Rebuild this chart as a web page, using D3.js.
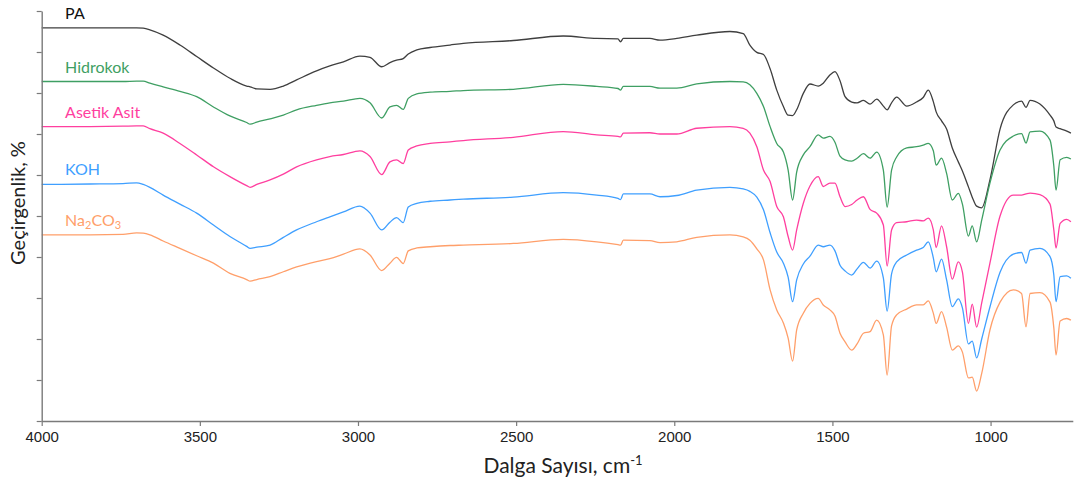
<!DOCTYPE html>
<html>
<head>
<meta charset="utf-8">
<script src="https://cdn.jsdelivr.net/npm/d3@7"></script>
<style>
  html, body { margin: 0; padding: 0; background: #fff; }
  svg { display: block; }
  .tick text { font-family: "Liberation Sans Narrow", "Arial Narrow", "Liberation Sans", sans-serif; font-size: 15px; fill: #222; }
</style>
</head>
<body>
<svg id="chart" width="1077" height="483"></svg>
<script>
// FTIR spectra: wavenumber (cm-1) and relative transmittance for each sample
const wavenumbers = [4000,3847,3743,3700,3679,3658,3616,3563,3510,3457,3405,3352,3341,3320,3278,3236,3194,3131,3089,3046,2994,2962,2925,2899,2878,2857,2841,2814,2772,2709,2667,2509,2351,2245,2178,2170,2161,2077,2045,1992,1929,1824,1782,1761,1739,1718,1697,1676,1655,1640,1626,1613,1592,1571,1545,1529,1508,1492,1476,1460,1439,1422,1402,1381,1360,1339,1327,1313,1297,1265,1234,1213,1197,1181,1172,1155,1139,1121,1102,1089,1070,1058,1044,1028,1002,970,928,902,888,875,844,812,800,793,780,759,746];

const pa = [95.9,95.9,95.9,95.9,95.8,95.4,94.1,91.7,88.9,86.1,83.6,81.7,81.5,81.0,80.9,81.7,83.2,85.4,86.6,87.6,89.0,88.7,86.4,87.4,88.0,88.4,89.5,90.5,91.1,91.7,92.1,92.8,93.9,93.3,93.2,92.5,93.3,93.3,92.9,93.3,94.1,95.0,94.5,91.7,89.9,89.4,85.9,80.7,76.7,74.6,74.5,75.9,79.9,82.2,81.7,82.4,84.4,85.2,83.0,79.1,77.8,77.6,78.2,77.3,78.5,76.8,75.9,77.6,79.0,76.8,77.8,78.9,80.7,77.9,75.4,73.2,71.2,66.6,63.2,61.0,57.1,54.6,52.4,52.0,58.8,71.2,77.1,78.0,76.5,78.2,77.3,74.6,73.2,71.7,71.3,70.7,70.2];

const hidrokok = [82.8,82.8,82.8,82.9,82.9,82.4,81.5,80.4,79.1,76.6,74.4,72.8,72.4,72.9,73.7,74.6,75.9,77.0,77.6,78.0,78.7,77.6,73.9,76.6,77.0,76.0,78.7,79.8,80.2,80.4,80.6,80.9,82.1,81.6,81.1,80.7,81.6,81.6,81.2,81.2,82.2,82.8,82.7,82.0,79.9,76.7,71.8,67.7,65.6,61.2,53.9,60.7,64.9,66.9,69.8,69.0,69.4,68.0,64.6,63.7,63.4,64.1,65.2,64.1,65.6,61.2,52.2,61.2,64.4,66.6,66.9,67.3,67.7,65.9,62.4,64.1,60.4,53.9,55.5,52.9,45.1,47.6,43.7,49.0,58.0,66.1,69.5,70.1,67.8,70.5,70.7,68.5,62.2,56.3,63.7,64.3,63.9];

const asetikAsit = [71.8,71.8,71.9,72.0,72.0,71.3,70.2,67.7,64.9,62.0,59.6,57.4,57.0,57.7,58.8,60.2,62.0,63.7,64.5,65.0,65.9,64.5,60.1,63.2,63.7,62.8,66.1,67.1,67.7,68.1,68.4,69.2,70.6,69.8,69.4,69.3,70.2,70.3,70.0,70.0,71.4,71.8,71.4,70.2,66.9,61.2,58.4,52.3,49.8,45.0,41.7,46.6,53.1,57.3,59.6,57.2,58.0,58.0,54.7,52.3,52.8,53.9,54.7,51.6,50.7,47.8,37.8,46.6,48.4,48.6,49.0,48.8,49.5,46.6,42.3,47.6,42.5,34.6,38.8,36.3,23.8,28.5,22.9,28.8,38.5,50.0,55.1,55.1,55.4,55.6,55.2,52.9,46.6,42.2,48.2,49.2,48.6];

const koh = [57.7,57.8,57.9,58.1,57.7,57.0,55.1,52.9,50.7,47.8,45.0,42.6,42.1,42.4,42.9,44.8,46.6,48.6,49.8,51.0,52.4,50.7,46.6,48.5,49.6,48.4,52.2,53.1,53.6,53.9,54.1,54.6,55.7,55.1,54.3,54.0,55.4,55.4,54.7,55.0,56.3,57.0,56.6,56.0,54.6,51.5,45.9,41.2,38.5,35.1,29.1,34.4,38.3,40.2,42.9,42.5,42.9,41.5,38.0,36.6,35.6,37.1,38.7,37.3,39.0,34.9,26.8,35.9,38.8,40.5,41.7,42.3,43.7,39.8,36.4,39.5,34.4,27.9,29.8,27.6,18.8,19.5,15.4,20.0,27.8,36.3,40.7,41.1,38.5,41.7,42.1,40.1,35.6,29.1,35.2,35.4,34.8];

const na2co3 = [45.4,45.4,45.5,45.9,45.8,45.4,43.9,42.1,40.3,38.5,36.0,34.5,34.1,34.5,35.2,36.4,37.6,38.9,39.6,40.7,42.0,40.5,36.7,38.5,39.9,38.4,41.5,42.2,42.5,42.8,42.9,43.3,44.3,43.7,43.0,42.9,44.1,44.0,43.5,43.7,44.8,45.4,44.9,44.1,42.0,39.3,32.0,27.1,23.9,20.2,14.6,22.2,26.3,28.7,29.9,28.3,27.1,25.6,21.4,19.3,17.3,18.8,21.4,21.8,24.6,21.0,11.2,23.2,25.9,27.3,28.3,28.3,29.3,26.3,23.8,26.7,22.9,17.3,18.3,16.8,10.5,10.7,7.3,11.6,22.2,29.0,32.0,31.1,23.0,31.1,31.3,29.0,22.7,16.1,24.4,25.0,24.6];

const seriesNames = ["PA", "Hidrokok", "Asetik Asit", "KOH", "Na2CO3"];
const seriesValues = [pa, hidrokok, asetikAsit, koh, na2co3];
const seriesColors = ["#3f3f3f", "#3f9f63", "#ff3f9f", "#3f9fff", "#ff9f6a"];
const labelColors = ["#111111", "#3f9f63", "#ff3f9f", "#3f9fff", "#ff9f6a"];

const xTicks = [4000, 3500, 3000, 2500, 2000, 1500, 1000];
const yTicks = [0, 10, 20, 30, 40, 50, 60, 70, 80, 90, 100];

const svg = d3.select("#chart");

const x = d3.scaleLinear().domain([4000, 740]).range([41.7, 1072.8]);
const y = d3.scaleLinear().domain([0, 100]).range([421, 11]);

// spectra
const line = d3.line()
  .x((d, i) => x(wavenumbers[i]))
  .y(d => y(d))
  .curve(d3.curveMonotoneX);

seriesValues.forEach((vals, k) => {
  svg.append("path")
    .datum(vals)
    .attr("fill", "none")
    .attr("stroke", seriesColors[k])
    .attr("stroke-width", 1.3)
    .attr("stroke-linejoin", "round")
    .attr("d", line);
});

// series labels, placed just above each trace's starting level
const labelX = x(3926);
seriesNames.forEach((name, k) => {
  const t = svg.append("text")
    .attr("x", labelX)
    .attr("y", y(seriesValues[k][0]) - 9)
    .attr("fill", labelColors[k])
    .attr("font-family", "Lato, 'Open Sans', sans-serif")
    .attr("font-size", 16);
  if (name === "Na2CO3") {
    t.append("tspan").text("Na");
    t.append("tspan").text("2").attr("font-size", 11).attr("dy", 3);
    t.append("tspan").text("CO").attr("dy", -3);
    t.append("tspan").text("3").attr("font-size", 11).attr("dy", 3);
  } else {
    t.text(name);
  }
});

// axes
const axisColor = "#7a7a7a";
const gx = svg.append("g")
  .attr("transform", `translate(0,${y(0)})`)
  .call(d3.axisBottom(x).tickValues(xTicks).tickSize(5).tickSizeOuter(0).tickPadding(5).tickFormat(d3.format("d")));
const gy = svg.append("g")
  .attr("transform", `translate(${x(4000)},0)`)
  .call(d3.axisLeft(y).tickValues(yTicks).tickSize(5).tickSizeOuter(0).tickFormat(""));
[gx, gy].forEach(g => {
  g.select(".domain").attr("stroke", axisColor).attr("stroke-width", 1.4);
  g.selectAll(".tick line").attr("stroke", axisColor).attr("stroke-width", 1.2);
});

// axis titles
const xt = svg.append("text")
  .attr("x", 563)
  .attr("y", 473)
  .attr("text-anchor", "middle")
  .attr("font-family", "Lato, 'Open Sans', sans-serif")
  .attr("font-size", 21)
  .attr("fill", "#222");
xt.append("tspan").text("Dalga Sayısı, cm");
xt.append("tspan").text("-1").attr("font-size", 13).attr("dy", -8);

svg.append("text")
  .attr("transform", "translate(25,203) rotate(-90)")
  .attr("text-anchor", "middle")
  .attr("font-family", "Lato, 'Open Sans', sans-serif")
  .attr("font-size", 20)
  .attr("fill", "#222")
  .text("Geçirgenlik, %");
</script>
</body>
</html>
